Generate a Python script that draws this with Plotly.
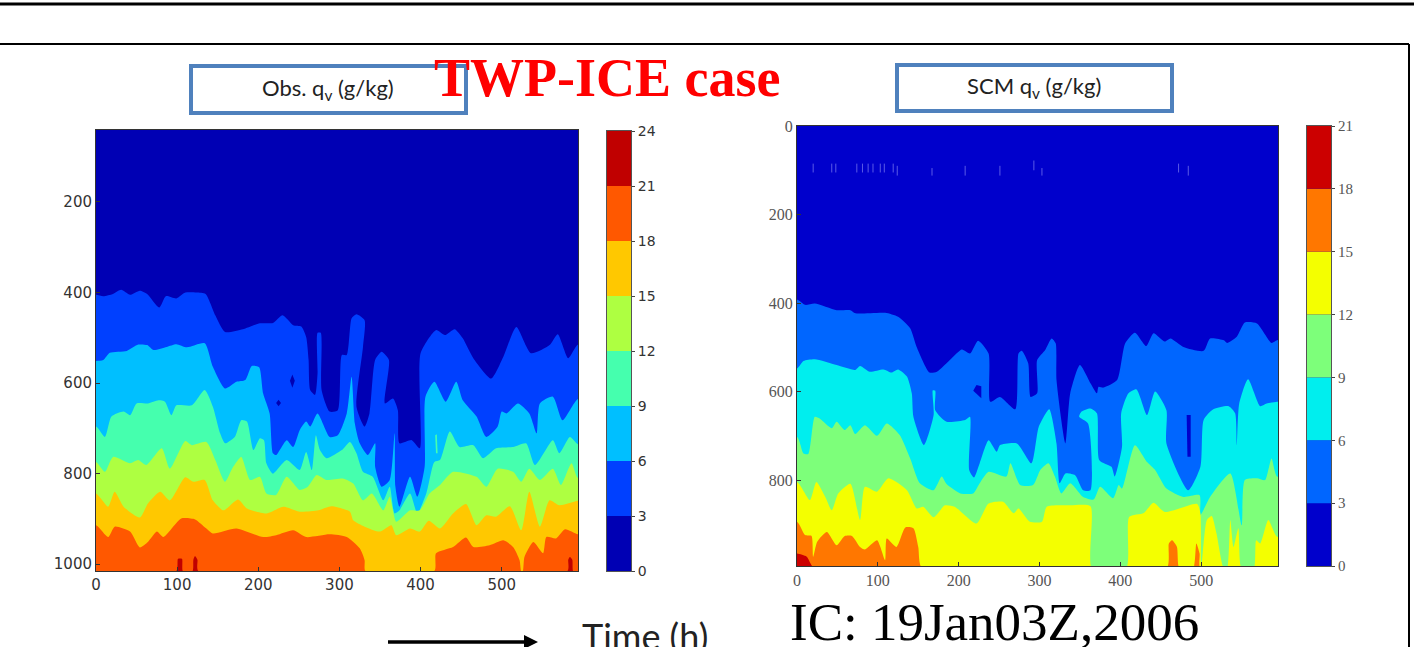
import plotly.graph_objects as go

W, H = 1414, 647

# ---------- Obs. panel: pressure (hPa) of each q_v contour against time (h) ----------
obs_levels = [0, 3, 6, 9, 12, 15, 18, 21, 24]
obs_colors = ["#0000b4", "#0040ff", "#00bfff", "#45ffae", "#aeff41", "#ffc800", "#ff5800", "#c00000"]

obs3_t = [0,9,21,31,42,54,63,78,86,99,110,124,135,147,159,181,202,218,230,243,253,259,262,264,270,273,273,277,278,288,298,303,309,315,321,331,329,321,331,337,344,352,361,356,366,372,374,389,399,400,419,430,442,452,465,487,502,518,536,559,569,582,594]
obs3_p = [405,408,403,394,405,396,403,433,408,413,400,400,403,450,487,481,468,467,450,472,475,498,549,615,626,579,489,489,615,663,660,538,538,457,448,461,520,652,696,667,549,531,549,645,634,660,733,726,744,534,483,494,481,501,545,590,542,476,534,516,492,545,515]

obs6_t = [0,9,17,38,52,63,71,87,99,112,134,144,159,173,184,192,201,206,214,218,222,235,243,251,259,264,273,288,298,309,315,319,325,335,344,344,352,362,368,369,374,387,396,405,406,417,431,444,452,469,481,495,500,506,520,534,543,547,563,575,594]
obs6_p = [551,549,533,529,515,516,527,520,514,521,512,564,612,597,593,562,565,623,667,755,759,726,741,704,685,696,667,719,715,667,586,689,733,759,733,785,829,814,711,829,873,807,851,785,630,597,641,597,638,674,719,696,663,667,645,667,711,645,630,682,635]

obs9_t = [0,11,19,34,42,50,64,77,85,93,99,118,134,144,153,159,171,179,186,194,202,207,210,218,235,251,259,266,271,276,284,303,313,321,329,341,354,362,368,374,387,396,407,417,424,436,448,465,477,493,514,530,541,563,571,584,594]
obs9_p = [696,719,674,663,671,645,645,638,641,671,649,649,615,652,711,733,719,682,685,748,722,726,777,800,770,792,752,792,715,748,766,748,730,755,796,807,859,829,888,881,844,888,844,774,770,707,741,737,766,744,741,733,781,726,755,719,735]

obs12_t = [0,11,21,42,52,62,81,91,110,118,136,147,159,169,179,190,202,210,222,235,251,261,272,284,305,317,329,340,354,362,370,387,399,411,424,440,469,481,495,514,524,534,547,563,573,586,594]
obs12_p = [774,796,763,777,770,781,744,789,728,737,730,770,818,785,763,814,807,844,847,807,836,829,803,814,811,822,859,844,881,851,906,881,881,844,825,796,807,829,789,796,818,789,814,789,825,777,810]

obs15_t = [0,15,23,34,54,64,79,91,110,120,134,144,157,175,186,210,231,251,274,290,313,317,331,350,364,370,387,399,410,424,440,456,469,481,493,510,524,534,547,559,571,594]
obs15_p = [844,873,840,873,897,866,840,859,808,818,814,859,881,857,877,888,873,884,881,872,884,903,917,928,914,936,921,928,904,921,888,867,914,892,895,872,925,840,917,859,870,860]

obs18_t = [0,15,23,42,54,64,75,83,105,122,136,144,173,206,222,243,259,288,309,325,331,332,417,419,440,456,465,485,502,514,522,524,526,528,539,551,555,567,578,594]
obs18_p = [914,940,917,928,963,951,928,940,899,901,921,932,921,940,936,925,940,934,940,965,991,1015,1015,976,962,941,962,958,947,962,991,1015,1015,984,951,976,940,943,923,934]

obs21_t = [0,99,101,106,107,119,120,122,125,126,581,582,584,587,588,594]
obs21_p = [1015,1015,988,988,1015,1015,990,982,990,1015,1015,990,984,990,1015,1015]

obs_hole1_t = [239,242,245,242]
obs_hole1_p = [595,581,595,610]
obs_hole2_t = [222,225,228,225]
obs_hole2_p = [644,637,644,651]
obs_sliver_t = [418,420,421,419]
obs_sliver_p = [715,713,755,755]

# ---------- SCM panel ----------
scm_levels = [0, 3, 6, 9, 12, 15, 18, 21]
scm_colors = ["#0000cc", "#0066ff", "#00eeee", "#7dff7a", "#f4ff00", "#ff7700", "#cc0000"]

scm3_t = [0,10,22,49,66,72,109,125,140,148,164,173,191,204,214,224,237,239,251,270,274,278,286,289,297,297,307,315,320,321,332,338,350,363,371,373,379,396,406,418,432,441,455,462,478,503,511,528,532,544,554,569,587,594]
scm3_p = [392,404,401,416,416,423,422,431,457,499,557,555,525,505,514,485,514,623,612,640,514,508,536,612,604,529,506,480,491,574,717,604,540,581,604,589,591,574,491,467,497,468,487,480,499,508,480,484,490,476,444,446,490,484]

scm6_t = [0,8,22,49,72,78,90,107,117,125,136,142,144,157,169,168,171,171,185,208,214,213,219,226,237,247,251,272,290,299,312,321,325,332,344,354,363,360,349,352,363,371,374,389,393,402,401,410,420,433,443,457,457,484,499,503,515,534,542,544,547,558,573,581,594]
scm6_p = [548,531,527,540,551,542,555,550,557,550,566,604,657,721,653,597,598,642,668,664,657,777,794,762,710,736,721,717,762,680,640,717,807,785,789,823,823,672,657,645,638,649,755,770,792,725,649,604,595,653,600,642,717,823,770,664,640,633,649,721,627,572,633,627,623]

scm9_t = [0,8,14,22,28,43,49,59,66,72,84,99,111,127,140,152,169,179,185,202,218,226,237,259,264,276,292,301,311,319,327,338,354,367,375,391,398,402,418,433,443,457,478,498,499,511,536,550,554,569,579,587,594]
scm9_p = [702,740,741,657,661,683,668,687,676,696,676,700,672,698,751,807,823,792,809,830,830,807,781,792,762,811,811,777,762,792,830,807,838,844,815,841,811,819,721,759,777,819,838,834,879,838,785,902,800,796,800,751,792]

scm12_t = [0,16,24,35,43,51,66,78,84,99,113,136,148,156,169,183,195,222,237,255,268,274,288,303,309,338,363,365,407,411,429,441,455,495,499,500,507,513,519,528,532,536,540,546,550,565,568,573,583,594]
scm12_p = [804,845,804,838,868,830,808,890,815,826,796,823,864,860,884,857,860,898,853,849,875,864,894,894,860,857,859,1000,1000,883,874,851,872,854,875,1000,890,881,921,1000,1000,890,951,909,1000,1000,936,943,890,928]

scm15_t = [0,10,18,20,25,37,49,59,68,78,84,99,109,111,123,134,144,150,155,457,460,464,470,473,490,494,498,499,594]
scm15_p = [894,924,926,973,939,917,947,926,926,951,957,936,981,932,951,907,909,951,1000,1000,943,936,951,1000,1000,943,966,1000,1000]

scm18_t = [0,12,22,594]
scm18_p = [966,973,1000,1000]

scm_hole1_t = [218,222,228,228,222]
scm_hole1_p = [598,585,588,615,605]
scm_hole2_t = [482,487,487,483]
scm_hole2_p = [653,653,747,747]

# short faint marks near the top of the SCM panel
scm_speck_t = [20,43,48,74,81,88,94,103,108,119,124,167,208,251,293,303,472,484]
scm_speck_top = [85,85,85,85,85,85,85,85,85,85,90,95,90,90,78,95,85,90]
scm_speck_bottom = [105,105,105,105,105,105,105,105,105,105,112,112,112,112,100,112,105,112]

arrow_x = [388, 538]

time_ticks = [0, 100, 200, 300, 400, 500]
obs_p_ticks = [200, 400, 600, 800, 1000]
scm_p_ticks = [0, 200, 400, 600, 800]
obs_range_t = [0, 594]
obs_range_p = [1015, 41]
scm_range_t = [0, 595]
scm_range_p = [994, 0]

fig = go.Figure()
curve = dict(width=0, shape="spline", smoothing=0.6)


def band(t, p, color, bottom, xa, ya):
    # close the polygon well outside the axes so the corners never show
    fig.add_trace(go.Scatter(x=[t[0] - 30] + t + [t[-1] + 30, t[-1] + 30, t[0] - 30],
                             y=[p[0]] + p + [p[-1], bottom + 60, bottom + 60], mode="lines",
                             line=curve, fill="toself", fillcolor=color,
                             hoverinfo="skip", showlegend=False, xaxis=xa, yaxis=ya))


def pocket(t, p, color, xa, ya):
    fig.add_trace(go.Scatter(x=t + [t[0]], y=p + [p[0]], mode="lines", line=dict(width=0),
                             fill="toself", fillcolor=color, hoverinfo="skip",
                             showlegend=False, xaxis=xa, yaxis=ya))


obs_bounds = [(obs3_t, obs3_p), (obs6_t, obs6_p), (obs9_t, obs9_p), (obs12_t, obs12_p),
              (obs15_t, obs15_p), (obs18_t, obs18_p), (obs21_t, obs21_p)]
for i, (t, p) in enumerate(obs_bounds):
    band(t, p, obs_colors[i + 1], obs_range_p[0], "x", "y")
    if i == 0:
        pocket(obs_hole1_t, obs_hole1_p, obs_colors[0], "x", "y")
        pocket(obs_hole2_t, obs_hole2_p, obs_colors[0], "x", "y")
    if i == 2:
        pocket(obs_sliver_t, obs_sliver_p, obs_colors[3], "x", "y")

scm_bounds = [(scm3_t, scm3_p), (scm6_t, scm6_p), (scm9_t, scm9_p), (scm12_t, scm12_p),
              (scm15_t, scm15_p), (scm18_t, scm18_p)]
for i, (t, p) in enumerate(scm_bounds):
    band(t, p, scm_colors[i + 1], scm_range_p[0], "x2", "y2")
    if i == 0:
        pocket(scm_hole1_t, scm_hole1_p, scm_colors[0], "x2", "y2")
        pocket(scm_hole2_t, scm_hole2_p, scm_colors[0], "x2", "y2")

sx, sy = [], []
for t, a, b in zip(scm_speck_t, scm_speck_top, scm_speck_bottom):
    sx += [t, t, None]
    sy += [a, b, None]
fig.add_trace(go.Scatter(x=sx, y=sy, mode="lines", line=dict(color="#5a5ae6", width=1),
                         hoverinfo="skip", showlegend=False, xaxis="x2", yaxis="y2"))


def colorbar(levels, colors, xa, ya):
    fig.add_trace(go.Bar(x=[0] * len(colors), y=[b - a for a, b in zip(levels[:-1], levels[1:])],
                         base=levels[:-1], marker=dict(color=colors, line=dict(width=0)), width=1,
                         hoverinfo="skip", showlegend=False, xaxis=xa, yaxis=ya))


colorbar(obs_levels, obs_colors, "x3", "y3")
colorbar(scm_levels, scm_colors, "x4", "y4")


def dx(a, b):
    return [a / W, b / W]


def dy(top, bottom):
    return [1 - bottom / H, 1 - top / H]


sans = dict(family="DejaVu Sans", size=15, color="#333333")
serif = dict(family="Liberation Serif", size=16, color="#555555")
frame = dict(showline=True, linecolor="#333333", linewidth=1, mirror=True, showgrid=False, zeroline=False,
             ticks="inside", ticklen=4, tickcolor="#333333")
bar_frame = dict(showline=True, mirror=True, linecolor="#555555", showgrid=False, zeroline=False)

fig.update_layout(
    width=W, height=H, margin=dict(l=0, r=0, t=0, b=0, autoexpand=False),
    paper_bgcolor="white", plot_bgcolor=obs_colors[0],
    barmode="overlay", showlegend=False,
    xaxis=dict(domain=dx(96, 578), range=obs_range_t, tickvals=time_ticks, tickfont=sans, **frame),
    yaxis=dict(domain=dy(130, 571), range=obs_range_p, tickvals=obs_p_ticks, tickfont=sans, **frame),
    xaxis2=dict(domain=dx(797, 1278), range=scm_range_t, tickvals=time_ticks, tickfont=serif, anchor="y2", **frame),
    yaxis2=dict(domain=dy(126, 566), range=scm_range_p, tickvals=scm_p_ticks, tickfont=serif, anchor="x2", **frame),
    xaxis3=dict(domain=dx(607, 631), range=[-0.5, 0.5], showticklabels=False, ticks="", anchor="y3", **bar_frame),
    yaxis3=dict(domain=dy(131, 571), range=[0, 24], tickvals=obs_levels, side="right", anchor="x3",
                tickfont=dict(family="DejaVu Sans", size=14, color="#333333"), ticks="outside", ticklen=3, **bar_frame),
    xaxis4=dict(domain=dx(1307, 1331), range=[-0.5, 0.5], showticklabels=False, ticks="", anchor="y4", **bar_frame),
    yaxis4=dict(domain=dy(126, 566), range=[0, 21], tickvals=scm_levels, side="right", anchor="x4",
                tickfont=dict(family="Liberation Serif", size=15, color="#555555"), ticks="outside", ticklen=3, **bar_frame),
)


def px(x):
    return x / W


def py(y):
    return 1 - y / H


# SCM panel background band: a full rectangle under its polygons
fig.add_shape(type="rect", xref="x2 domain", yref="y2 domain", x0=0, x1=1, y0=0, y1=1,
              fillcolor=scm_colors[0], line=dict(width=0), layer="below")

page = dict(xref="paper", yref="paper", layer="above")
fig.add_shape(type="line", x0=0, x1=1, y0=py(4), y1=py(4), line=dict(color="black", width=3), **page)
fig.add_shape(type="line", x0=0, x1=px(1409), y0=py(44), y1=py(44), line=dict(color="black", width=2), **page)
fig.add_shape(type="line", x0=px(1409), x1=px(1409), y0=py(44), y1=0, line=dict(color="black", width=2), **page)
fig.add_shape(type="rect", x0=px(191), x1=px(466), y0=py(113), y1=py(66), line=dict(color="#4f81bd", width=4), **page)
fig.add_shape(type="rect", x0=px(897), x1=px(1172), y0=py(111), y1=py(65), line=dict(color="#4f81bd", width=4), **page)
# time arrow: shaft and head
fig.add_shape(type="line", x0=px(arrow_x[0]), x1=px(arrow_x[1] - 6), y0=py(642), y1=py(642),
              line=dict(color="black", width=3.5), **page)
fig.add_shape(type="path", path=f"M {px(arrow_x[1] - 14)} {py(635)} L {px(arrow_x[1])} {py(642)} L {px(arrow_x[1] - 14)} {py(649)} Z",
              fillcolor="black", line=dict(width=0), **page)


def note(x, y, text, font, anchor="center"):
    fig.add_annotation(x=px(x), y=py(y), xref="paper", yref="paper", text=text, showarrow=False,
                       font=font, xanchor=anchor, yanchor="middle")


note(328, 89, "Obs. q<sub>v</sub> (g/kg)", dict(family="Lato", size=22, color="#222222"))
note(1034, 87, "SCM q<sub>v</sub> (g/kg)", dict(family="Lato", size=22, color="#222222"))
note(607, 78, "<b>TWP-ICE case</b>", dict(family="Liberation Serif", size=54, color="#ff0000"))
note(788, 622, "IC: 19Jan03Z,2006", dict(family="Liberation Serif", size=53, color="#000000"), "left")
note(645, 636, "Time (h)", dict(family="Lato", size=36, color="#222222"))

fig.write_html("out.html", config={"displayModeBar": False},
               post_script="document.body.style.margin='0';document.body.style.overflow='hidden';")
